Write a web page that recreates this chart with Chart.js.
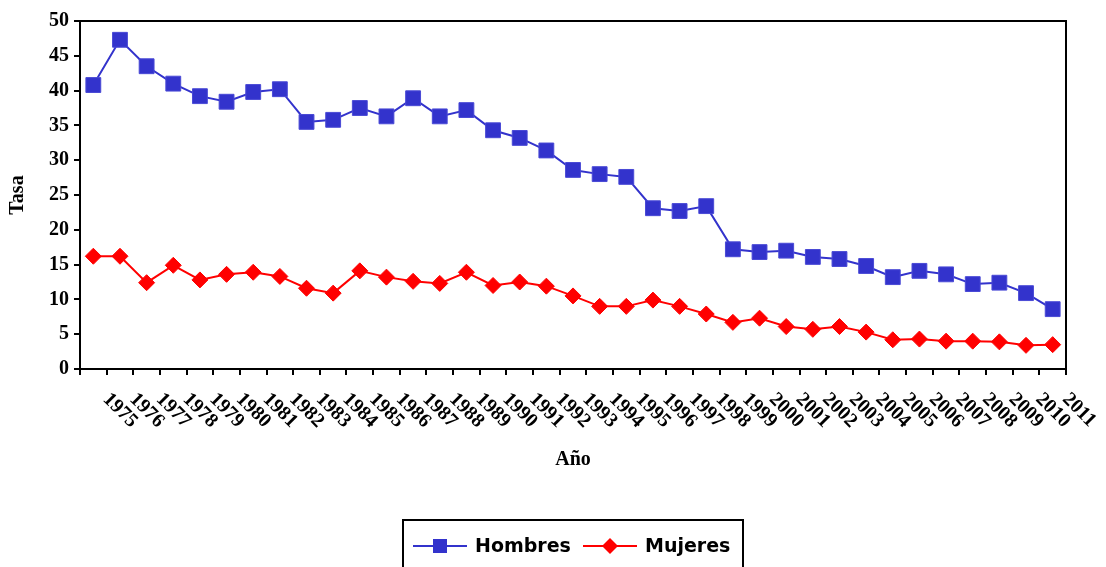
<!DOCTYPE html>
<html lang="es">
<head>
<meta charset="UTF-8">
<title>Tasa por año</title>
<script src="https://cdn.jsdelivr.net/npm/chart.js"></script>
<style>
    html, body { margin: 0; padding: 0; background: #ffffff; }
    #wrap { width: 1106px; height: 567px; }
</style>
</head>
<body>
<div id="wrap"><canvas id="tasaChart"></canvas></div>
<script>
    const years = [
        '1975', '1976', '1977', '1978', '1979', '1980', '1981', '1982', '1983', '1984',
        '1985', '1986', '1987', '1988', '1989', '1990', '1991', '1992', '1993', '1994',
        '1995', '1996', '1997', '1998', '1999', '2000', '2001', '2002', '2003', '2004',
        '2005', '2006', '2007', '2008', '2009', '2010', '2011'
    ];

    const hombres = [
        40.8, 47.3, 43.5, 41.0, 39.2, 38.4, 39.8, 40.2, 35.5, 35.8,
        37.5, 36.3, 38.9, 36.3, 37.2, 34.3, 33.2, 31.4, 28.6, 28.0,
        27.6, 23.1, 22.7, 23.4, 17.2, 16.8, 17.0, 16.1, 15.8, 14.8,
        13.2, 14.1, 13.6, 12.2, 12.4, 10.9, 8.6
    ];

    const mujeres = [
        16.2, 16.2, 12.4, 14.9, 12.8, 13.6, 13.9, 13.3, 11.6, 10.9,
        14.1, 13.2, 12.6, 12.3, 13.9, 12.0, 12.5, 11.9, 10.5, 9.0,
        9.0, 9.9, 9.0, 7.9, 6.7, 7.3, 6.1, 5.7, 6.1, 5.3,
        4.2, 4.3, 4.0, 4.0, 3.9, 3.4, 3.5
    ];

    const seriesNames = ['Hombres', 'Mujeres'];
    const blue = '#3333cc';
    const red = '#ff0000';
    const serif = '"Liberation Serif", "Times New Roman", serif';
    const legendFont = 'bold 19px "Comic Sans MS", "DejaVu Sans", sans-serif';

    // year labels slanted downwards, plus the x title and the boxed legend
    const extrasPlugin = {
        id: 'extras',
        afterDraw(chart) {
            const ctx = chart.ctx;
            const area = chart.chartArea;
            const xScale = chart.scales.x;
            const step = xScale.width / years.length;

            // top and right frame of the plot
            ctx.save();
            ctx.strokeStyle = '#000';
            ctx.lineWidth = 2;
            ctx.beginPath();
            ctx.moveTo(area.left, area.top);
            ctx.lineTo(area.right, area.top);
            ctx.lineTo(area.right, area.bottom);
            ctx.stroke();
            ctx.restore();

            ctx.save();
            ctx.fillStyle = '#000';
            ctx.font = 'bold 20px ' + serif;
            ctx.textAlign = 'left';
            ctx.textBaseline = 'middle';
            years.forEach((yr, i) => {
                const x = xScale.getPixelForValue(i) + step / 2;
                ctx.save();
                ctx.translate(x, area.bottom + 28);
                ctx.rotate(Math.PI / 4);
                ctx.fillText(yr, -1, 0);
                ctx.restore();
            });

            ctx.textAlign = 'center';
            ctx.fillText('Año', (area.left + area.right) / 2, area.bottom + 91);
            ctx.restore();

            // legend
            const boxW = 340;
            const boxX = (area.left + area.right) / 2 - boxW / 2;
            const boxY = chart.height - 47;
            const midY = boxY + 26;
            ctx.save();
            ctx.strokeStyle = '#000';
            ctx.lineWidth = 2;
            ctx.strokeRect(boxX, boxY, boxW, 54);

            const colors = [blue, red];
            const starts = [boxX + 10, boxX + 180];
            ctx.font = legendFont;
            ctx.textAlign = 'left';
            ctx.textBaseline = 'middle';
            seriesNames.forEach((name, i) => {
                const sx = starts[i];
                ctx.strokeStyle = colors[i];
                ctx.fillStyle = colors[i];
                ctx.lineWidth = 2;
                ctx.beginPath();
                ctx.moveTo(sx, midY);
                ctx.lineTo(sx + 54, midY);
                ctx.stroke();
                const cx = sx + 27;
                if (i === 0) {
                    ctx.fillRect(cx - 7, midY - 7, 14, 14);
                } else {
                    ctx.beginPath();
                    ctx.moveTo(cx, midY - 8);
                    ctx.lineTo(cx + 8, midY);
                    ctx.lineTo(cx, midY + 8);
                    ctx.lineTo(cx - 8, midY);
                    ctx.closePath();
                    ctx.fill();
                }
                ctx.fillStyle = '#000';
                ctx.fillText(name, sx + 62, midY + 1);
            });
            ctx.restore();
        }
    };

    const ctx = document.getElementById('tasaChart').getContext('2d');
    const tasaChart = new Chart(ctx, {
        type: 'line',
        data: {
            labels: years,
            datasets: [
                {
                    label: seriesNames[0],
                    data: hombres,
                    borderColor: blue,
                    backgroundColor: blue,
                    borderWidth: 2,
                    pointStyle: 'rect',
                    pointRadius: 10.5,
                    pointBorderWidth: 1,
                    pointBorderColor: '#4a4ad6',
                    tension: 0
                },
                {
                    label: seriesNames[1],
                    data: mujeres,
                    borderColor: red,
                    backgroundColor: red,
                    borderWidth: 2,
                    pointStyle: 'rectRot',
                    pointRadius: 8,
                    pointBorderWidth: 1,
                    tension: 0
                }
            ]
        },
        options: {
            responsive: true,
            maintainAspectRatio: false,
            animation: false,
            layout: { padding: { top: 21, right: 40, bottom: 192, left: 0 } },
            plugins: {
                legend: { display: false },
                tooltip: { enabled: false }
            },
            scales: {
                x: {
                    offset: true,
                    grid: {
                        offset: true,
                        drawOnChartArea: false,
                        drawTicks: true,
                        tickLength: 6,
                        color: '#000',
                        lineWidth: 2
                    },
                    border: { color: '#000', width: 2 },
                    ticks: { display: false }
                },
                y: {
                    min: 0,
                    max: 50,
                    ticks: {
                        stepSize: 5,
                        color: '#000',
                        padding: 5,
                        font: { family: serif, size: 20, weight: 'bold' }
                    },
                    grid: {
                        drawOnChartArea: false,
                        tickLength: 6,
                        color: '#000',
                        lineWidth: 2
                    },
                    border: { color: '#000', width: 2 },
                    title: {
                        display: true,
                        text: 'Tasa',
                        color: '#000',
                        padding: { top: 6, bottom: 4 },
                        font: { family: serif, size: 20, weight: 'bold' }
                    },
                    afterFit(scale) { scale.width = 80; }
                }
            }
        },
        plugins: [extrasPlugin]
    });
</script>
</body>
</html>
